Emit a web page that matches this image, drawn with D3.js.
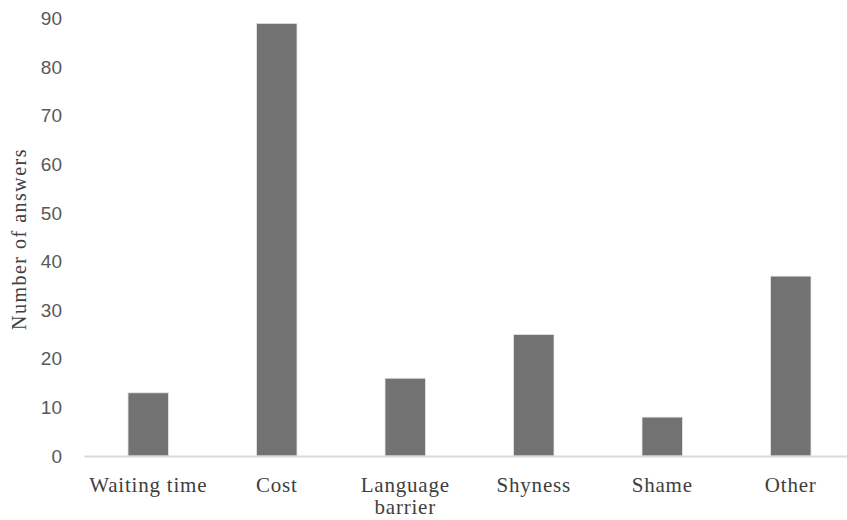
<!DOCTYPE html>
<html>
<head>
<meta charset="utf-8">
<script src="https://cdn.jsdelivr.net/npm/d3@7"></script>
<style>
  body { margin: 0; background: #fff; }
</style>
</head>
<body>
<div id="chart"></div>
<script>
(function(){
    var width = 847;
    var height = 520;

    var categories = ["Waiting time", "Cost", "Language barrier", "Shyness", "Shame", "Other"];
    var answers = [13, 89, 16, 25, 8, 37];
    var yTicks = [0, 10, 20, 30, 40, 50, 60, 70, 80, 90];

    var data = categories.map(function(c, i){
        return { category: c, value: answers[i] };
    });

    var svg = d3.select("#chart")
        .append("svg")
            .attr("width", width)
            .attr("height", height);

    var xScale = d3.scaleBand()
        .domain(categories)
        .range([84, 855])
        .paddingInner(0.685)
        .paddingOuter(0.3425);

    var yScale = d3.scaleLinear()
        .domain([0, 90])
        .range([456, 18.5]);

    // y tick labels, no axis line
    var yAxis = d3.axisLeft(yScale)
        .tickValues(yTicks)
        .tickSize(0)
        .tickPadding(0);

    svg.append("g")
        .attr("class", "y axis")
        .attr("transform", "translate(62,0)")
        .call(yAxis)
        .call(function(g){ g.select(".domain").remove(); })
        .selectAll(".tick text")
            .attr("font-family", "'Liberation Sans', Arial, sans-serif")
            .attr("font-size", "19px")
            .attr("fill", "#595959");

    svg.selectAll(".bar")
        .data(data)
        .enter()
        .append("rect")
        .attr("class", "bar")
        .attr("x", function(d){ return xScale(d.category); })
        .attr("width", xScale.bandwidth())
        .attr("y", function(d){ return yScale(d.value); })
        .attr("height", function(d){ return yScale(0) - yScale(d.value); })
        .attr("fill", "#727272")
        .attr("stroke", "#e6e6e6")
        .attr("stroke-width", 0.8);

    // x axis baseline
    var xAxis = d3.axisBottom(xScale).tickSize(0).tickPadding(0);

    var gx = svg.append("g")
        .attr("class", "x axis")
        .attr("transform", "translate(0," + yScale(0) + ")")
        .call(xAxis);

    gx.select(".domain")
        .attr("stroke", "#d9d9d9")
        .attr("stroke-width", 2);

    gx.selectAll(".tick text").remove();

    gx.selectAll(".tick")
        .append("text")
        .attr("text-anchor", "middle")
        .attr("font-family", "'Liberation Serif', 'Times New Roman', serif")
        .attr("font-size", "21px")
        .attr("letter-spacing", "0.8px")
        .attr("fill", "#404040")
        .each(function(d){
            var words = d === "Language barrier" ? ["Language", "barrier"] : [d];
            var t = d3.select(this);
            words.forEach(function(w, i){
                t.append("tspan")
                    .attr("x", 0)
                    .attr("y", 36 + i * 22)
                    .text(w);
            });
        });

    svg.append("text")
        .attr("transform", "translate(26,239) rotate(-90)")
        .attr("text-anchor", "middle")
        .attr("font-family", "'Liberation Serif', 'Times New Roman', serif")
        .attr("font-size", "20px")
        .attr("letter-spacing", "1.5px")
        .attr("fill", "#404040")
        .text("Number of answers");
})();
</script>
</body>
</html>
